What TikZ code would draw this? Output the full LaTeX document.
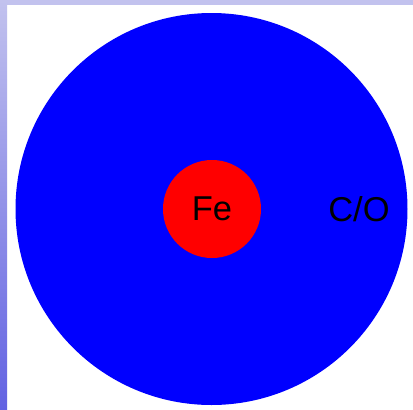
\documentclass[tikz,border=0pt]{standalone}
\usepackage{fontspec}
\setmainfont{Liberation Sans}
\begin{document}
\begin{tikzpicture}[x=1pt,y=-1pt,
  lbl/.style={font=\fontsize{34.5}{40}\selectfont, text=black, inner sep=0pt}]
\definecolor{bandtop}{HTML}{C2C2EE}
\definecolor{bandbot}{HTML}{6262E2}
\useasboundingbox (0,0) rectangle (413,410);
\fill[white] (0,0) rectangle (413,410);
\fill[bandtop] (0,0) rectangle (413,5);
\shade[top color=bandtop, bottom color=bandbot] (0,0) rectangle (7,410);
\fill[blue] (211.5,209) circle[radius=196];
\node[circle, fill=red, minimum size=98pt, inner sep=0pt] (fe) at (212,209) {};
\node[lbl] at (fe.center) {Fe};
\node[lbl] (co) at (359,209) {C/O};
\end{tikzpicture}
\end{document}
